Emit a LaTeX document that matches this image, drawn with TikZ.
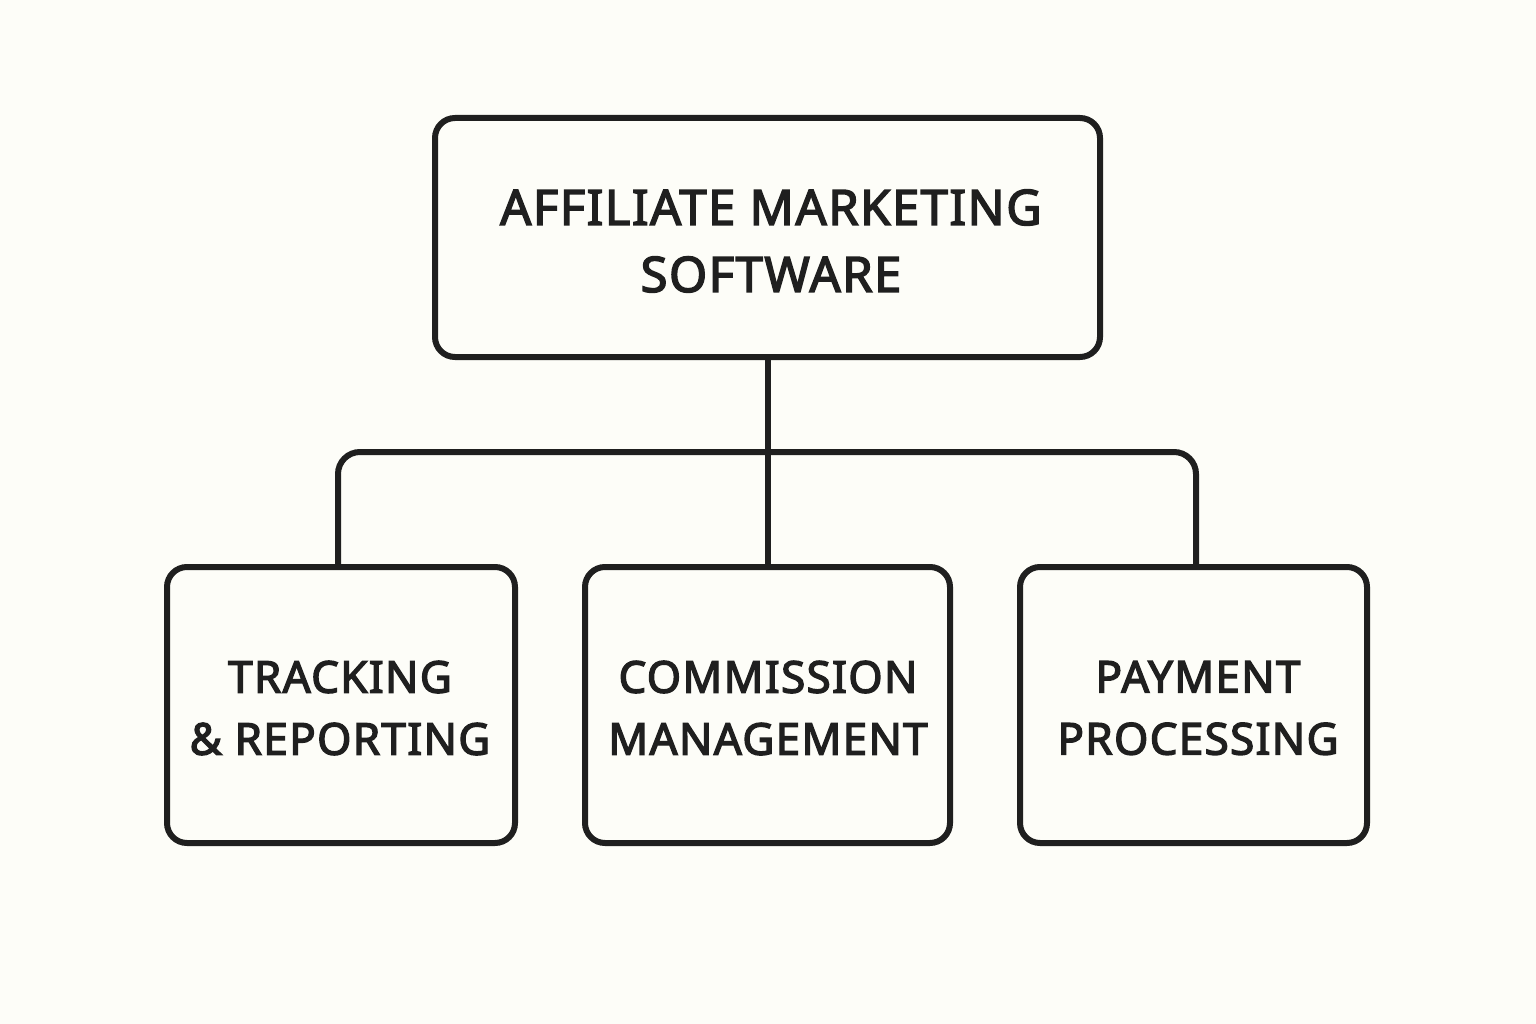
\documentclass[tikz,border=0pt]{standalone}
\usepackage{fontspec}
\setmainfont{Noto Sans}[FakeBold=3,LetterSpace=3]
\begin{document}
\begin{tikzpicture}[x=1pt,y=-1pt,
  box/.style={draw=black!88,line width=6pt,rounded corners=20pt},
  lbl/.style={align=center,font=\fontsize{49}{67}\selectfont,text=black!88},
  sub/.style={lbl,font=\fontsize{44}{62}\selectfont},
  conn/.style={draw=black!88,line width=6pt,rounded corners=22pt}]
\fill[fill={rgb,255:red,253;green,253;blue,248}] (0,0) rectangle (1536,1024);
\useasboundingbox (0,0) rectangle (1536,1024);
\draw[box] (435,118) rectangle (1100,357);
\draw[box] (167,567) rectangle (515,843);
\draw[box] (585,567) rectangle (950,843);
\draw[box] (1020,567) rectangle (1367,843);
\node[lbl] (top) at (771,241) {AFFILIATE MARKETING\\SOFTWARE};
\node[sub] (a) at (340,708) {TRACKING\\\& REPORTING};
\node[sub] (b) at (768,708) {COMMISSION\\MANAGEMENT};
\node[sub] (c) at (1198,708) {PAYMENT\\PROCESSING};
\coordinate (t) at (768,357);
\draw[conn] (t) -- (768,567);
\draw[conn] (338,567) -- (338,452) -- (1196,452) -- (1196,567);
\end{tikzpicture}
\end{document}
